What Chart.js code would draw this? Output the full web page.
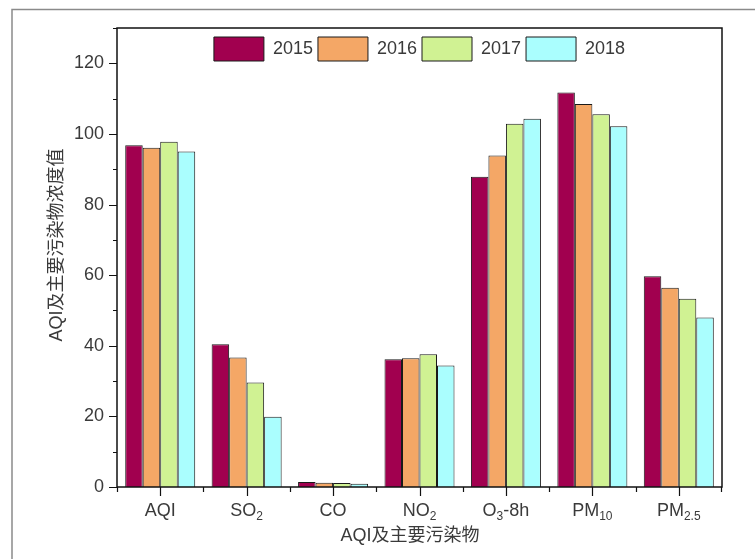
<!DOCTYPE html>
<html>
<head>
<meta charset="utf-8">
<title>AQI及主要污染物</title>
<script src="https://cdn.jsdelivr.net/npm/chart.js@4"></script>
<style>
    body { margin: 0; background: #fff; }
    canvas { display: block; }
</style>
</head>
<body>
<canvas id="aqiChart" width="755" height="559"></canvas>
<script>
// categories on the x axis; parts after the first are subscripts
const categories = ['AQI', 'SO2', 'CO', 'NO2', 'O3-8h', 'PM10', 'PM2.5'];
const tickLabels = [['AQI'], ['SO', '2'], ['CO'], ['NO', '2'], ['O', '3', '-8h'], ['PM', '10'], ['PM', '2.5']];
const years = ['2015', '2016', '2017', '2018'];

// values
const values2015 = [96.8, 40.4, 1.4, 36.2, 87.9, 111.7, 59.7];
const values2016 = [96.1, 36.7, 1.2, 36.5, 93.9, 108.5, 56.4];
const values2017 = [97.8, 29.6, 1.1, 37.6, 102.9, 105.6, 53.3];
const values2018 = [95.0, 19.9, 0.9, 34.4, 104.3, 102.2, 48.0];

const yMax = 130;
const yStep = 10;

const colors = ['#a1004f', '#f4a766', '#d0f293', '#aafefe'];
const fontFamily = '"Liberation Sans", Arial, "Noto Sans CJK SC", sans-serif';
const textColor = '#3a3a3a';

// Draws the frames, tick marks, subscripted category labels and axis titles
const decorations = {
    id: 'decorations',
    beforeInit(chart) {
        // legend takes no layout height so it sits inside the plot box
        const fit = chart.legend.fit;
        chart.legend.fit = function () {
            fit.call(this);
            this.height = 0;
        };
    },
    afterLayout(chart) {
        // give the legend its room back for drawing (it clips to its box)
        const lg = chart.legend;
        lg.top += 4;
        lg.height = 60;
        lg.bottom = lg.top + 60;
    },
    afterDraw(chart) {
        const ctx = chart.ctx;
        const area = chart.chartArea;
        const x = chart.scales.x;
        const y = chart.scales.y;
        ctx.save();

        // outer figure frame
        ctx.strokeStyle = '#8a8a8a';
        ctx.lineWidth = 1.5;
        ctx.beginPath();
        ctx.moveTo(12, 570);
        ctx.lineTo(12, 9.5);
        ctx.lineTo(760, 9.5);
        ctx.stroke();

        // plot box
        ctx.strokeStyle = '#111';
        ctx.lineWidth = 1.5;
        ctx.strokeRect(area.left, area.top, area.right - area.left, area.bottom - area.top);

        // y tick marks, long on labelled values
        ctx.lineWidth = 1.2;
        ctx.beginPath();
        for (let v = 0; v <= yMax; v += yStep) {
            const py = Math.round(y.getPixelForValue(v)) + 0.5;
            const len = v % 20 === 0 ? 8 : 4;
            ctx.moveTo(area.left - len, py);
            ctx.lineTo(area.left, py);
        }
        // x tick marks: long at centres, short at boundaries
        const half = (x.getPixelForValue(1) - x.getPixelForValue(0)) / 2;
        categories.forEach((c, i) => {
            const px = Math.round(x.getPixelForValue(i)) + 0.5;
            ctx.moveTo(px, area.bottom);
            ctx.lineTo(px, area.bottom + 9);
            const bx = Math.round(x.getPixelForValue(i) - half) + 0.5;
            ctx.moveTo(bx, area.bottom);
            ctx.lineTo(bx, area.bottom + 5);
        });
        ctx.moveTo(area.right - 0.5, area.bottom);
        ctx.lineTo(area.right - 0.5, area.bottom + 5);
        ctx.stroke();

        // category labels with subscripts
        ctx.fillStyle = textColor;
        ctx.textAlign = 'left';
        ctx.textBaseline = 'alphabetic';
        const mainFont = '18px ' + fontFamily;
        const subFont = '12px ' + fontFamily;
        tickLabels.forEach((parts, i) => {
            let total = 0;
            parts.forEach((p, k) => {
                ctx.font = k % 2 === 1 ? subFont : mainFont;
                total += ctx.measureText(p).width;
            });
            let cx = x.getPixelForValue(i) - total / 2;
            parts.forEach((p, k) => {
                const sub = k % 2 === 1;
                ctx.font = sub ? subFont : mainFont;
                ctx.fillText(p, cx, sub ? 519.5 : 515.5);
                cx += ctx.measureText(p).width;
            });
        });

        // axis titles
        ctx.font = mainFont;
        ctx.textAlign = 'center';
        ctx.textBaseline = 'middle';
        ctx.fillText('AQI及主要污染物', 410, 536);
        ctx.translate(57, 245);
        ctx.rotate(-Math.PI / 2);
        ctx.fillText('AQI及主要污染物浓度值', 0, 0);

        ctx.restore();
    }
};

const seriesValues = [values2015, values2016, values2017, values2018];

const ctxBar = document.getElementById('aqiChart').getContext('2d');
const barChart = new Chart(ctxBar, {
    type: 'bar',
    data: {
        labels: categories,
        datasets: years.map((year, i) => ({
            label: year,
            data: seriesValues[i],
            backgroundColor: colors[i],
            borderColor: '#1a1a1a',
            borderWidth: 1,
            categoryPercentage: 0.81,
            barPercentage: 1
        }))
    },
    options: {
        responsive: false,
        animation: false,
        layout: {
            padding: { top: 28, right: 33, bottom: 0, left: 0 }
        },
        plugins: {
            legend: {
                display: true,
                position: 'top',
                fullSize: false,
                labels: {
                    boxWidth: 50,
                    boxHeight: 24,
                    padding: 5,
                    color: textColor,
                    font: { family: fontFamily, size: 18 }
                }
            },
            tooltip: { enabled: false }
        },
        scales: {
            x: {
                grid: { display: false, drawTicks: false },
                border: { display: false },
                ticks: { display: false },
                afterFit(scale) { scale.height = 72; }
            },
            y: {
                min: 0,
                max: yMax,
                grid: { display: false, drawTicks: false },
                border: { display: false },
                ticks: {
                    stepSize: yStep,
                    padding: 13,
                    color: textColor,
                    font: { family: fontFamily, size: 18 },
                    callback: (value) => (value % 20 === 0 ? value : '')
                },
                afterFit(scale) { scale.width = 117; }
            }
        }
    },
    plugins: [decorations]
});
</script>
</body>
</html>
